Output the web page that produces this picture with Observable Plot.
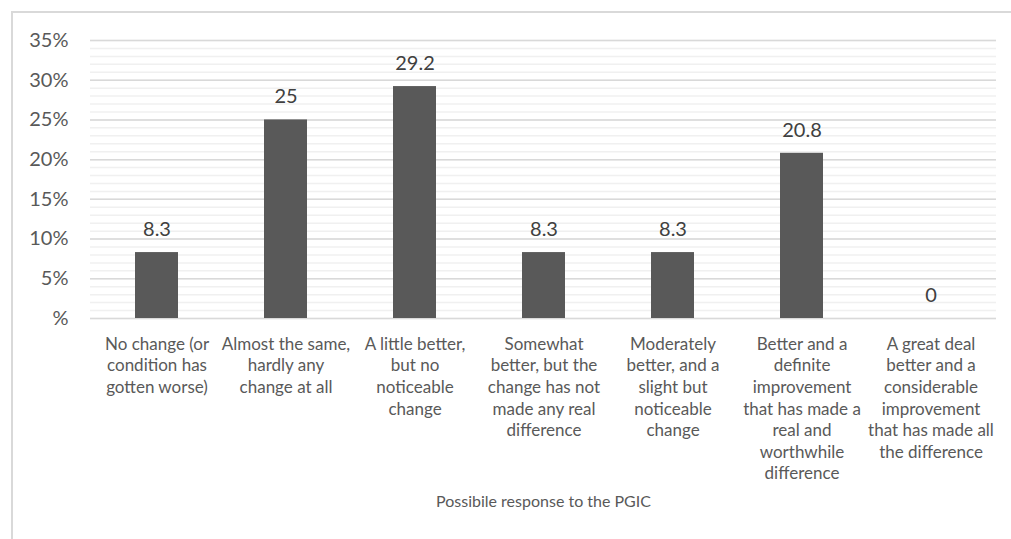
<!DOCTYPE html>
<html>
<head>
<meta charset="utf-8">
<script src="https://cdn.jsdelivr.net/npm/d3@7"></script>
<script src="https://cdn.jsdelivr.net/npm/@observablehq/plot@0.6"></script>
<style>
  html, body { margin: 0; padding: 0; background: #fff; }
  #wrap { position: relative; width: 1011px; height: 539px; overflow: hidden; }
  #border { position: absolute; left: 11px; top: 11px; width: 1020px; height: 560px; border: 2px solid #d9d9d9; box-sizing: border-box; }
  #chart { position: absolute; left: 0; top: 0; }
</style>
</head>
<body>
<div id="wrap"><div id="border"></div><div id="chart"></div></div>
<script>
const categories = [
  "No change (or\ncondition has\ngotten worse)",
  "Almost the same,\nhardly any\nchange at all",
  "A little better,\nbut no\nnoticeable\nchange",
  "Somewhat\nbetter, but the\nchange has not\nmade any real\ndifference",
  "Moderately\nbetter, and a\nslight but\nnoticeable\nchange",
  "Better and a\ndefinite\nimprovement\nthat has made a\nreal and\nworthwhile\ndifference",
  "A great deal\nbetter and a\nconsiderable\nimprovement\nthat has made all\nthe difference"
];
const values = [8.3, 25, 29.2, 8.3, 8.3, 20.8, 0];
const valueLabels = ["8.3", "25", "29.2", "8.3", "8.3", "20.8", "0"];
const yTicks = [0, 5, 10, 15, 20, 25, 30, 35];
const yTickLabels = ["%", "5%", "10%", "15%", "20%", "25%", "30%", "35%"];
const yMinorTicks = d3.range(0, 36, 1);
const xTitle = "Possibile response to the PGIC";

const data = categories.map((c, i) => ({cat: c, value: values[i], label: valueLabels[i]}));
const font = "Lato, 'Noto Sans', sans-serif";

const chart = Plot.plot({
  width: 1011,
  height: 539,
  marginLeft: 90,
  marginRight: 15,
  marginTop: 40,
  marginBottom: 221,
  style: {fontFamily: font, background: "transparent", color: "#595959"},
  x: {domain: categories, paddingInner: 2/3, paddingOuter: 1/3, label: null},
  y: {domain: [0, 35], label: null},
  marks: [
    Plot.gridY(yMinorTicks, {stroke: "#f0f0f0", strokeOpacity: 1, strokeWidth: 1.5}),
    Plot.gridY(yTicks, {stroke: "#d9d9d9", strokeOpacity: 1, strokeWidth: 1.5}),
    Plot.barY(data, {x: "cat", y: "value", fill: "#595959"}),
    Plot.text(data, {x: "cat", y: "value", text: "label", dy: -23, fontSize: 20, fill: "#404040", fontFamily: font}),
    Plot.axisY(yTicks, {tickSize: 0, tickPadding: 22, fontSize: 20, fill: "#595959", tickFormat: (d) => yTickLabels[yTicks.indexOf(d)], label: null}),
    Plot.axisX({tickSize: 0, tickPadding: 16, fontSize: 17, lineHeight: 1.27, fill: "#595959", tickFormat: d => d, label: null}),
    Plot.text([xTitle], {frameAnchor: "bottom", dy: 188, text: d => d, fontSize: 16, fill: "#595959", fontFamily: font})
  ]
});
document.getElementById("chart").appendChild(chart);
</script>
</body>
</html>
